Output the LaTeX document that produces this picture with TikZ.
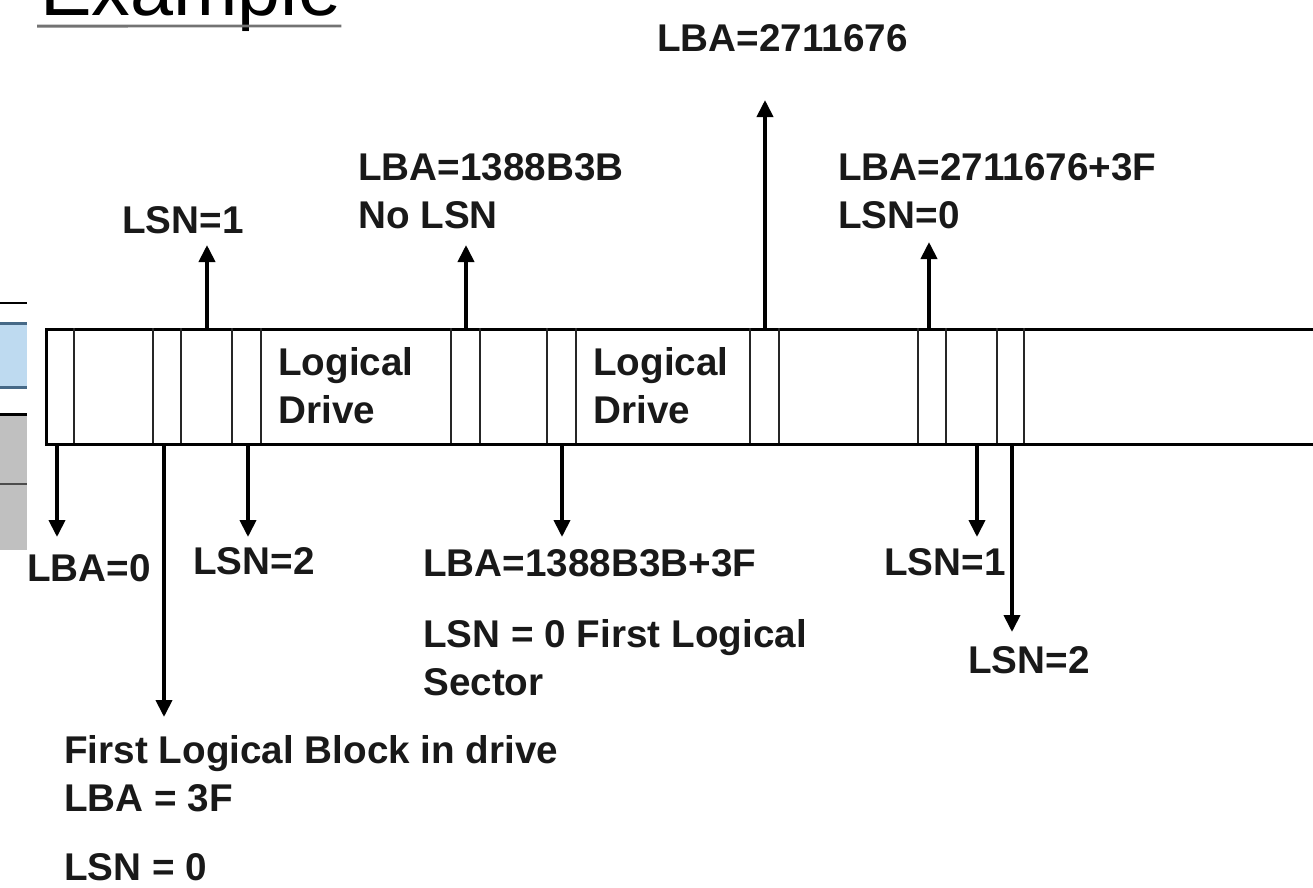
\documentclass[tikz,border=0pt]{standalone}
\usepackage{fontspec}
\setmainfont{Liberation Sans}
\usetikzlibrary{arrows.meta}
\definecolor{paneblue}{RGB}{190,218,240}
\definecolor{paneedge}{RGB}{70,105,135}
\definecolor{panegray}{RGB}{192,192,192}

\begin{document}
\begin{tikzpicture}[x=0.02cm, y=-0.02cm,
  disk/.style={rectangle, draw=black, line width=1.7pt, inner sep=0pt,
    anchor=north west, minimum width=26cm, minimum height=2.3cm},
  divider/.style={line width=1.2pt, color=black!85},
  ptr/.style={-{Triangle[length=0.34cm, width=0.32cm]}, line width=2.2pt},
  lbl/.style={anchor=base west, inner sep=0pt, align=left,
    font=\fontsize{22}{27.2}\selectfont\bfseries, color=black!90},
  title/.style={anchor=base west, inner sep=0pt, font=\fontsize{44}{50}\selectfont},
  uline/.style={line width=1.7pt, color=black!55}
]
\useasboundingbox (0,0) rectangle (1313,887);
\clip (0,0) rectangle (1313,887);

% cut-off panes at the left edge
\draw[line width=0.8pt] (0,303) -- (27,303);
\fill[paneblue] (0,323) rectangle (27,387);
\draw[paneedge, line width=1.7pt] (0,323) -- (27,323) (0,387) -- (27,387);
\fill[panegray] (0,414) rectangle (27,550);
\draw[line width=1.7pt] (0,414) -- (27,414);
\draw[line width=0.8pt, black!70] (0,484) -- (27,484);

\node[title] (ex) at (40,15) {Example};
\draw[uline] ([shift={(-3,11)}]ex.base west) -- ([yshift=-0.22cm]ex.base east);

\node[disk] (disk) at (45,328) {};
\foreach \x in {74,153,181,232,261,451,480,547,576,750,779,918,946,997,1024}
  {\draw[divider] (\x,328) -- (\x,443);}

% multi-line labels sit on the baseline of their last line
\node[lbl] (ld1) at (278,423) {Logical\\Drive};
\node[lbl] (ld2) at (593,423) {Logical\\Drive};

\node[lbl] (lba2711676) at (657,51) {LBA=2711676};
\node[lbl] (lba1388) at (358,228) {LBA=1388B3B\\No LSN};
\node[lbl] (lsn1a) at (122,233) {LSN=1};
\node[lbl] (lba2711676b) at (838,228) {LBA=2711676+3F\\LSN=0};
\node[lbl] (lba0) at (27,581) {LBA=0};
\node[lbl] (lsn2a) at (193,574) {LSN=2};
\node[lbl] (lba1388b) at (423,576) {LBA=1388B3B+3F};
\node[lbl] (lsn0sec) at (423,695) {LSN = 0 First Logical\\Sector};
\node[lbl] (lsn1b) at (884,575) {LSN=1};
\node[lbl] (lsn2b) at (968,673) {LSN=2};
\node[lbl] (flb) at (64,811) {First Logical Block in drive\\LBA = 3F};
\node[lbl] (lsn0) at (64,880) {LSN = 0};

\coordinate (up1) at (207,245);
\coordinate (up2) at (466,245);
\coordinate (up3) at (765,100);
\coordinate (up4) at (929,242);
\coordinate (dn1) at (57,537);
\coordinate (dn2) at (164,717);
\coordinate (dn3) at (248,537);
\coordinate (dn4) at (562,537);
\coordinate (dn5) at (977,537);
\coordinate (dn6) at (1012,632);
\foreach \c in {up1,up2,up3,up4} {\draw[ptr] (\c |- disk.north) -- (\c);}
\foreach \c in {dn1,dn2,dn3,dn4,dn5,dn6} {\draw[ptr] (\c |- disk.south) -- (\c);}
\end{tikzpicture}
\end{document}
